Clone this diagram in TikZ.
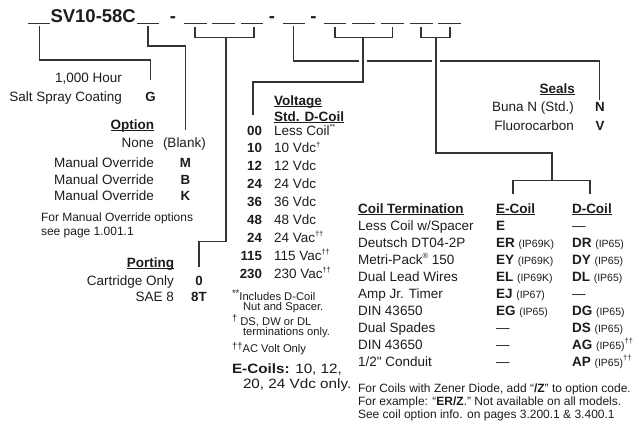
\documentclass[tikz,border=0pt]{standalone}
\usepackage{fontspec}
\setmainfont{Liberation Sans}[Ligatures=TeXOff]
\usepackage{graphicx}
\definecolor{txt}{HTML}{1C1C1C}
\definecolor{ln}{HTML}{333333}
\newcommand\ulb[1]{\setbox0\hbox{\bfseries #1}\rlap{\rule[-1.8pt]{\wd0}{0.9pt}}\box0}
\newcommand\sups[1]{\raisebox{0.42em}{\fontsize{7.5}{8}\selectfont #1}}
\newcommand\nsups[1]{\raisebox{0.3em}{\fontsize{9.5}{10}\selectfont #1}}
\newcommand\ipx[1]{{\fontsize{10.5}{12}\selectfont #1}}
\begin{document}
\begin{tikzpicture}[x=1pt,y=-1pt,
  every node/.style={inner sep=0pt, outer sep=0pt, text=txt},
  lbl/.style={font=\fontsize{13.5}{15}\selectfont},
  lr/.style={lbl, anchor=base east},
  ll/.style={lbl, anchor=base west},
  code/.style={font=\fontsize{13.3}{15}\selectfont\bfseries, anchor=base},
  coder/.style={font=\fontsize{13.3}{15}\selectfont\bfseries, anchor=base east},
  note/.style={font=\fontsize{11.2}{12}\selectfont, anchor=base west},
  fnote/.style={font=\fontsize{12}{13}\selectfont, anchor=base west},
  big/.style={font=\fontsize{18.5}{20}\selectfont\bfseries},
  conn/.style={draw=ln, line width=1.1pt},
  blank/.style={draw=ln, line width=1.1pt}]
\useasboundingbox (0,0) rectangle (639,428);

% ---- part number line ----
\node[big, anchor=base west] (title) at (50.5,22.5) {SV10-58C};
\node[big, anchor=base] (d1) at (173,22.5) {-};
\node[big, anchor=base] (d2) at (272,22.5) {-};
\node[big, anchor=base] (d3) at (313.5,22.5) {-};
\foreach \a/\b/\n in {28/50/b1,137/159/b2,184/207/b3,212/235/b4,241/263/b5,283/305/b6,324/346/b7,352/375/b8,381/404/b9,410/433/b10,438/461/b11}{
  \draw[blank] (\a,23.5) -- (\b,23.5) coordinate (\n);
}

% ---- connector end points ----
\coordinate (c1s) at (39.5,26.5);  \coordinate (c1e) at (150.5,80);
\coordinate (c2s) at (148,26.5);   \coordinate (c2e) at (185.5,130);
\coordinate (p3a) at (195,27);     \coordinate (p3b) at (254,37.5);  \coordinate (p3c) at (254,27);
\coordinate (c3s) at (226,37.5);   \coordinate (c3e) at (199,267);
\coordinate (c6s) at (293.5,26.5); \coordinate (c6a) at (359,61); \coordinate (c6b) at (367,61);
\coordinate (c6c) at (432,61);     \coordinate (c6d) at (440,61); \coordinate (c6e) at (599.5,100);
\coordinate (p7a) at (335,27);     \coordinate (p7b) at (392.5,37.5); \coordinate (p7c) at (392.5,27);
\coordinate (c7s) at (363,37.5);   \coordinate (c7e) at (253,115);
\coordinate (p10a) at (421,27);    \coordinate (p10b) at (450,37.5); \coordinate (p10c) at (450,27);
\coordinate (c10s) at (436,37.5);  \coordinate (c10e) at (552,180.5);
\coordinate (pEa) at (513,194);    \coordinate (pEb) at (590,180.5); \coordinate (pEc) at (590,194);

\draw[conn] (c1s) -- ++(0,33.5) -| (c1e);
\draw[conn] (c2s) -- ++(0,19.5) -| (c2e);
\draw[conn] (p3a) |- (p3b) -- (p3c);
\draw[conn] (c3s) -- ++(0,204) -| (c3e);
\draw[conn] (c6s) |- (c6a);
\draw[conn] (c6b) -- (c6c);
\draw[conn] (c6d) -| (c6e);
\draw[conn] (p7a) |- (p7b) -- (p7c);
\draw[conn] (c7s) -- ++(0,44.5) -| (c7e);
\draw[conn] (p10a) |- (p10b) -- (p10c);
\draw[conn] (c10s) -- ++(0,115.5) -| (c10e);
\draw[conn] (pEa) |- (pEb) -- (pEc);

% ---- coating ----
\node[lr] (hr) at (122,82.5) {1,000 Hour};
\node[lr] (ssc) at (122,101.5) {Salt Spray Coating};
\node[code] (G) at (150.5,101.5) {G};

% ---- option ----
\node[lr] (opt) at (154,129.3) {\ulb{Option}};
\node[lr] (none) at (154,147.5) {None};
\node[ll] (blk) at (163,147.5) {(Blank)};
\node[lr] (mo1) at (154,167.7) {Manual Override};
\node[lr] (mo2) at (154,184.2) {Manual Override};
\node[lr] (mo3) at (154,200.7) {Manual Override};
\node[code] (M) at (185.5,167.7) {M};
\node[code] (B) at (185.5,184.2) {B};
\node[code] (K) at (185.5,200.7) {K};
\node[fnote] (mon1) at (41,221.5) {For Manual Override options};
\node[fnote] (mon2) at (41,235) {see page 1.001.1};

% ---- porting ----
\node[lr] (port) at (174,267.5) {\ulb{Porting}};
\node[lr] (cart) at (174,285) {Cartridge Only};
\node[code] (p0) at (199,285) {0};
\node[lr] (sae) at (174,301.5) {SAE 8};
\node[code] (p8t) at (199,301.5) {8T};

% ---- voltage ----
\node[ll] (volt) at (274,105) {\ulb{Voltage}};
\node[ll] (stdd) at (274,121) {\ulb{Std. D-Coil}};
\foreach \c/\t [count=\i from 0] in {00/{Less Coil\sups{**}},10/{10 Vdc\sups{†}},12/{12 Vdc},24/{24 Vdc},36/{36 Vdc},48/{48 Vdc},24/{24 Vac\sups{††}},115/{115 Vac\sups{††}},230/{230 Vac\sups{††}}}{
  \node[coder] (vc\i) at (262,135+17.9*\i) {\c};
  \node[ll] (vt\i) at (274,135+17.9*\i) {\t};
}
\node[note] (n1) at (232,300) {\nsups{**}Includes D-Coil};
\node[note] (n2) at (243,310.5) {Nut and Spacer.};
\node[note] (n3) at (232,325) {\nsups{†} DS, DW or DL};
\node[note] (n4) at (243,335.5) {terminations only.};
\node[note] (n5) at (232,352.5) {\nsups{††}AC Volt Only};
\node[ll] (ec1) at (232,373) {\scalebox{1.13}[1]{\textbf{E-Coils:} 10, 12,}};
\node[ll] (ec2) at (243,388.5) {\scalebox{1.13}[1]{20, 24 Vdc only.}};

% ---- seals ----
\node[lr] (seals) at (575,93.5) {\ulb{Seals}};
\node[lr] (buna) at (574,111) {Buna N (Std.)};
\node[code] (sN) at (600,111) {N};
\node[lr] (fluo) at (574,130) {Fluorocarbon};
\node[code] (sV) at (600,130) {V};

% ---- coil termination ----
\node[ll] (cth) at (358,213) {\ulb{Coil Termination}};
\node[ll] (eh) at (496,213) {\ulb{E-Coil}};
\node[ll] (dh) at (572,213) {\ulb{D-Coil}};
\foreach \t/\e/\d [count=\i from 0] in {
  {Less Coil w/Spacer}/{\textbf{E}}/{—},
  {Deutsch DT04-2P}/{\textbf{ER} \ipx{(IP69K)}}/{\textbf{DR} \ipx{(IP65)}},
  {Metri-Pack\sups{®} 150}/{\textbf{EY} \ipx{(IP69K)}}/{\textbf{DY} \ipx{(IP65)}},
  {Dual Lead Wires}/{\textbf{EL} \ipx{(IP69K)}}/{\textbf{DL} \ipx{(IP65)}},
  {Amp Jr. Timer}/{\textbf{EJ} \ipx{(IP67)}}/{—},
  {DIN 43650}/{\textbf{EG} \ipx{(IP65)}}/{\textbf{DG} \ipx{(IP65)}},
  {Dual Spades}/{—}/{\textbf{DS} \ipx{(IP65)}},
  {DIN 43650}/{—}/{\textbf{AG} \ipx{(IP65)}\sups{††}},
  {1/2" Conduit}/{—}/{\textbf{AP} \ipx{(IP65)}\sups{††}}}{
  \node[ll] (ct\i) at (358,230+17.08*\i) {\t};
  \node[ll] (ce\i) at (496,230+17.08*\i) {\e};
  \node[ll] (cd\i) at (572,230+17.08*\i) {\d};
}
\node[fnote] (f1) at (358,392.3) {For Coils with Zener Diode, add “\textbf{/Z}” to option code.};
\node[fnote] (f2) at (358,405.5) {For example: “\textbf{ER/Z}.” Not available on all models.};
\node[fnote] (f3) at (358,418.5) {See coil option info. on pages 3.200.1 \& 3.400.1};
\end{tikzpicture}
\end{document}
